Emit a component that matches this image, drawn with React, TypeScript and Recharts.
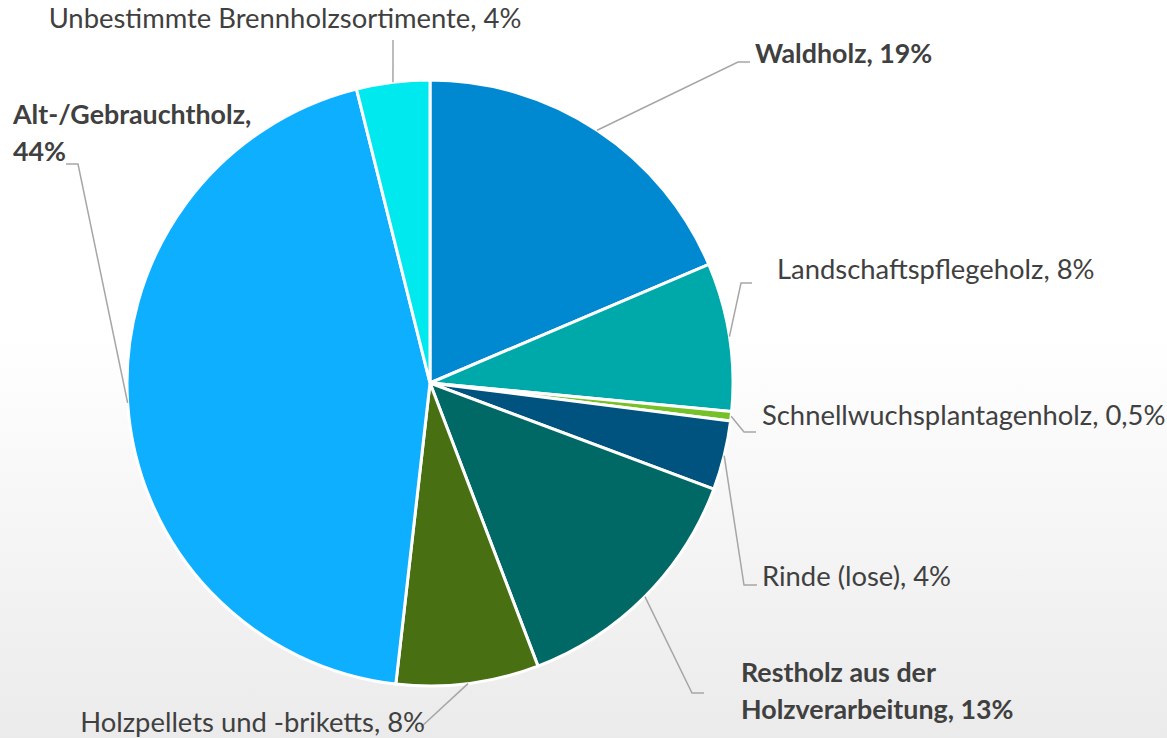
import React from 'react';
import { PieChart, Pie, Cell } from 'recharts';

// Holzsortimente, Anteile in % (Winkel)
const categories = [
  'Waldholz',
  'Landschaftspflegeholz',
  'Schnellwuchsplantagenholz',
  'Rinde (lose)',
  'Restholz aus der Holzverarbeitung',
  'Holzpellets und -briketts',
  'Alt-/Gebrauchtholz',
  'Unbestimmte Brennholzsortimente',
];
const shares = [18.6, 7.9, 0.5, 3.7, 13.5, 7.6, 44.3, 3.9];
const shareLabels = ['19%', '8%', '0,5%', '4%', '13%', '8%', '44%', '4%'];

const COLORS = ['#0089d1', '#00a9a9', '#76c12a', '#00537e', '#006865', '#487012', '#0fafff', '#00e9ef'];

// label layout: text lines, text position, leader elbow and end
const LABELS = [
  { lines: ['Waldholz, 19%'], bold: true, x: 755, y: 63, anchor: 'start', elbow: [738, 62], end: [750, 62] },
  { lines: ['Landschaftspflegeholz, 8%'], bold: false, x: 777, y: 279, anchor: 'start', elbow: [741, 283], end: [752, 283] },
  { lines: ['Schnellwuchsplantagenholz, 0,5%'], bold: false, x: 762, y: 425, anchor: 'start', elbow: [744, 432], end: [756, 432] },
  { lines: ['Rinde (lose), 4%'], bold: false, x: 762, y: 586, anchor: 'start', elbow: [744, 585], end: [757, 585] },
  { lines: ['Restholz aus der', 'Holzverarbeitung, 13%'], bold: true, x: 741, y: 682, anchor: 'start', elbow: [692, 693], end: [704, 693] },
  { lines: ['Holzpellets und -briketts, 8%'], bold: false, x: 425, y: 732, anchor: 'end', elbow: [421, 727], end: [421, 727] },
  { lines: ['Alt-/Gebrauchtholz,', '44%'], bold: true, x: 13, y: 124, anchor: 'start', elbow: [78, 164], end: [66, 164] },
  { lines: ['Unbestimmte Brennholzsortimente, 4%'], bold: false, x: 285, y: 28, anchor: 'middle', elbow: [393, 40], end: [393, 40] },
];

const data = categories.map((name, i) => ({ name, value: shares[i], label: shareLabels[i] }));

const RADIAN = Math.PI / 180;

const renderLabel = (props: any) => {
  const { cx, cy, midAngle, outerRadius, index } = props;
  const l = LABELS[index];
  const sx = cx + outerRadius * Math.cos(-midAngle * RADIAN);
  const sy = cy + outerRadius * Math.sin(-midAngle * RADIAN);
  return (
    <g key={`lbl-${index}`}>
      <path
        d={`M${sx},${sy}L${l.elbow[0]},${l.elbow[1]}L${l.end[0]},${l.end[1]}`}
        stroke="#a6a6a6"
        strokeWidth={1.5}
        fill="none"
      />
      <text
        x={l.x}
        y={l.y}
        textAnchor={l.anchor}
        fill="#404040"
        fontSize={l.bold ? 26.8 : 27.4}
        fontWeight={l.bold ? 700 : 400}
        fontFamily="Lato, 'Noto Sans', sans-serif"
      >
        {l.lines.map((t, k) => (
          <tspan key={k} x={l.x} dy={k === 0 ? 0 : 37}>{t}</tspan>
        ))}
      </text>
    </g>
  );
};

export default function App() {
  return (
    <div
      style={{
        position: 'absolute',
        left: 0,
        top: 0,
        width: 1167,
        height: 738,
        background: 'linear-gradient(to bottom, #ffffff 0%, #ffffff 45%, #ebebeb 100%)',
      }}
    >
      <PieChart width={1167} height={738} margin={{ top: 0, right: 0, bottom: 0, left: 0 }}>
        <Pie
          data={data}
          dataKey="value"
          nameKey="name"
          cx={430}
          cy={383}
          outerRadius={303}
          startAngle={90}
          endAngle={-270}
          stroke="#ffffff"
          strokeWidth={3}
          label={renderLabel}
          labelLine={false}
          isAnimationActive={false}
        >
          {data.map((entry, index) => (
            <Cell key={`cell-${index}`} fill={COLORS[index]} />
          ))}
        </Pie>
      </PieChart>
    </div>
  );
}
